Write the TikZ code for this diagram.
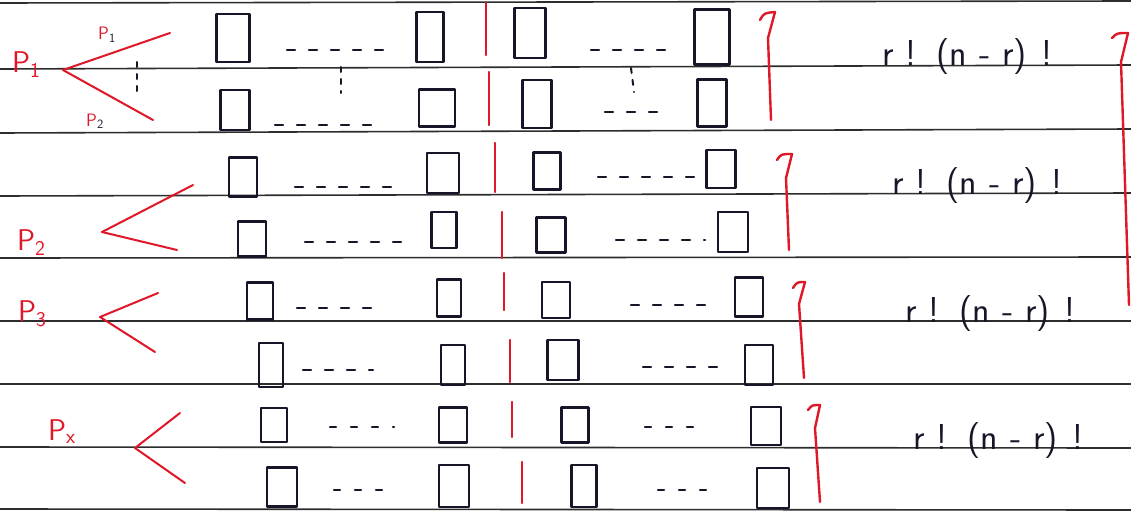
\documentclass[tikz,border=0pt]{standalone}
\usepackage{tikz}
\usetikzlibrary{calc}
\definecolor{ink}{RGB}{22,22,40}
\definecolor{pen}{RGB}{222,24,40}
\definecolor{rulegray}{RGB}{45,45,45}
\newcommand{\rnr}{r\hspace{12pt}!\hspace{20pt}(n\hspace{12pt}-\hspace{12pt}r)\hspace{14pt}!}

\begin{document}
\begin{tikzpicture}[x=1pt,y=-1pt,
  line cap=round,line join=round,
  rule/.style={rulegray,line width=1.6pt},
  cell/.style={draw=ink,line width=2.8pt,inner sep=0pt},
  gap/.style={ink,line width=2.2pt,dash pattern=on 8pt off 14pt},
  bar/.style={pen,line width=2.4pt},
  arm/.style={pen,line width=2pt},
  lbl/.style={pen,font=\fontsize{30}{30}\selectfont\sffamily,anchor=base west,inner sep=0pt},
  small/.style={pen,font=\fontsize{18}{18}\selectfont\sffamily,anchor=base west,inner sep=0pt},
  count/.style={ink,font=\fontsize{36}{36}\selectfont\sffamily,anchor=base west,inner sep=0pt}]
\fill[white] (0,0) rectangle (1131,511);
\useasboundingbox (0,0) rectangle (1131,511);
% ---------- ruled paper ----------
\foreach \yl/\yr in {3/1,69/65,133/129,196/193,258/257,321/321,384/384,447/448,509/510}
  \draw[rule] (0,\yl) -- (1131,\yr);
% ---------- cells: name/x/y/width/height ----------
\foreach \n/\cx/\cy/\w/\h in {
  a1/233/38/33/48, b1/430/37/27/50, c1/530/33/31/50, d1/712/37/35/55,
  a2/235/110/29/40, b2/437/108/36/37, c2/537/104/29/48, d2/712/103/29/47,
  a3/243/177/28/39, b3/443/173/32/40, c3/547/171/27/37, d3/721/169/29/38,
  a4/252/239/28/35, b4/444/230/25/36, c4/551/235/29/35, d4/733/232/30/40,
  a5/260/301/26/37, b5/449/298/24/37, c5/556/300/28/36, d5/749/297/28/39,
  a6/271/365/24/44, b6/453/365/24/40, c6/563/360/31/40, d6/759/365/28/40,
  a7/274/425/26/34, b7/453/425/28/35, c7/575/425/27/35, d7/766/426/30/38,
  a8/282/487/30/39, b8/454/486/30/42, c8/584/486/25/42, d8/773/488/32/40}
  \node[cell,minimum width=\w,minimum height=\h] (\n) at (\cx,\cy) {};
% ---------- dots between cells ----------
\foreach \xa/\xb/\yd in {287/395/50, 591/668/50, 275/382/125, 605/668/112,
  295/404/187, 598/695/177, 305/405/242, 616/705/240,
  297/373/308, 631/718/305, 303/373/370, 643/718/367}
  \draw[gap] (\xa,\yd) -- (\xb,\yd);
\foreach \xa/\xb/\yd in {330/394/427, 645/696/427, 334/382/490, 658/708/490}
  \draw[gap,dash pattern=on 6pt off 15pt] (\xa,\yd) -- (\xb,\yd);
\draw[ink,line width=2pt,dash pattern=on 5pt off 7pt] (341,67) -- (341,93);
\draw[ink,line width=2pt,dash pattern=on 5pt off 7pt] (631,68) -- (634,92);
% ---------- red split bars ----------
\foreach \xb/\ya/\yb in {486/3/55, 489/72/125, 495/143/192, 502/212/258,
  504/273/310, 510/340/382, 512/402/437, 522/462/503}
  \draw[bar] (\xb,\ya) -- (\xb,\yb);
% ---------- brackets ----------
\draw[bar] (760,20) .. controls (764,13) .. (775,12) -- (768,38) -- (771,120);
\draw[bar] (777,160) .. controls (781,154) .. (792,154) -- (786,178) -- (789,250);
\draw[bar] (793,288) .. controls (797,282) .. (805,282) -- (799,304) -- (804,378);
\draw[bar] (808,410) .. controls (812,405) .. (820,405) -- (815,428) -- (820,502);
\draw[bar] (1112,38) .. controls (1117,33) .. (1128,33) -- (1121,62) -- (1129,305);
% ---------- left labels ----------
\node[lbl] (p1) at (12,72) {P\textsubscript{1}};
\node[lbl] (p2) at (17,250) {P\textsubscript{2}};
\node[lbl] (p3) at (18,321) {P\textsubscript{3}};
\node[lbl] (px) at (48,440) {P\textsubscript{x}};
\node[small] (q1) at (98,40) {P\textsubscript{\color{ink}1}};
\node[small] (q2) at (86,126) {P\textsubscript{\color{ink}2}};
\coordinate (t1) at (63,70);
\coordinate (t2) at (102,232);
\coordinate (t3) at (100,317);
\coordinate (tx) at (135,448);
\draw[arm] (t1) -- (170,33);
\draw[arm] (t1) -- (153,120);
\draw[ink,line width=2pt,dash pattern=on 5pt off 7pt] (137,62) -- (137,97);
\draw[arm] (t2) -- (193,185);
\draw[arm] (t2) -- (177,250);
\draw[arm] (t3) -- (158,293);
\draw[arm] (t3) -- (155,352);
\draw[arm] (tx) -- (180,413);
\draw[arm] (tx) -- (185,483);
% ---------- counts ----------
\node[count] (f1) at (882,66) {\rnr};
\node[count] (f2) at (892,194) {\rnr};
\node[count] (f3) at (905,322) {\rnr};
\node[count] (f4) at (913,449) {\rnr};
\end{tikzpicture}
\end{document}
